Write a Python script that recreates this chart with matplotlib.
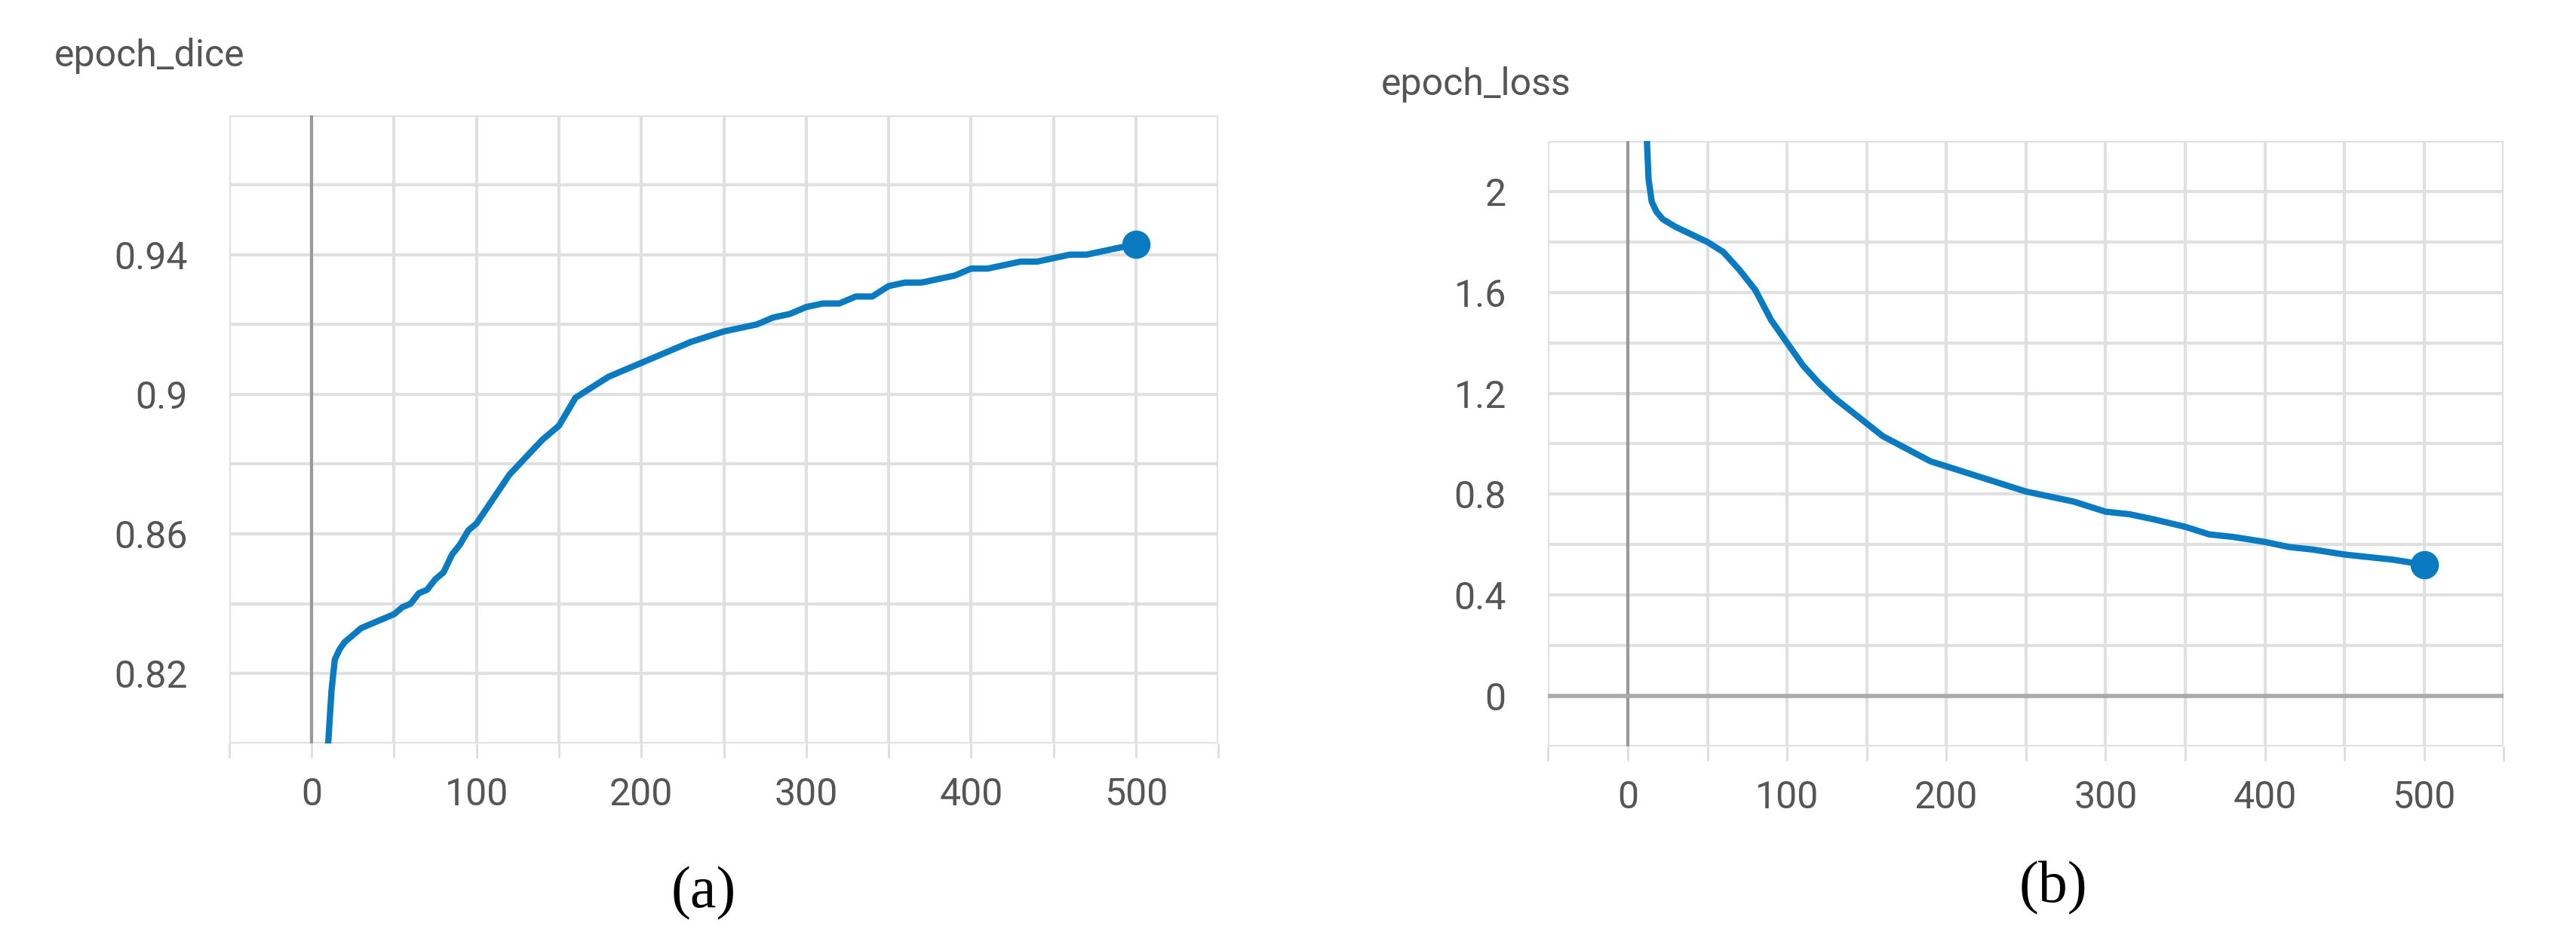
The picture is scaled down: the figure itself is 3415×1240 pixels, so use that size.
import matplotlib.pyplot as plt
from matplotlib.ticker import MultipleLocator

# epoch_dice (a)
dice_epoch = [10, 12, 14, 17, 20, 25, 30, 35, 40, 45, 50, 55, 60, 65, 70, 75, 80, 85, 90, 95, 100,
              110, 120, 130, 140, 150, 155, 160, 170, 180, 190, 200, 215, 230, 250, 260, 270, 280,
              290, 300, 310, 320, 330, 340, 350, 360, 370, 380, 390, 400, 410, 420, 430, 440,
              450, 460, 470, 480, 490, 500]
dice_value = [0.800, 0.815, 0.824, 0.827, 0.829, 0.831, 0.833, 0.834, 0.835, 0.836, 0.837, 0.839,
              0.840, 0.843, 0.844, 0.847, 0.849, 0.854, 0.857, 0.861, 0.863, 0.870, 0.877, 0.882,
              0.887, 0.891, 0.895, 0.899, 0.902, 0.905, 0.907, 0.909, 0.912, 0.915, 0.918, 0.919,
              0.920, 0.922, 0.923, 0.925, 0.926, 0.926, 0.928, 0.928, 0.931, 0.932, 0.932, 0.933,
              0.934, 0.936, 0.936, 0.937, 0.938, 0.938, 0.939, 0.940, 0.940, 0.941, 0.942, 0.943]

# epoch_loss (b)
loss_epoch = [12, 13, 15, 18, 22, 30, 40, 50, 60, 70, 80, 90, 100, 110, 120, 130, 140, 150, 160,
              175, 190, 200, 215, 230, 250, 265, 280, 300, 315, 330, 350, 365, 380, 400, 415,
              430, 450, 465, 480, 500]
loss_value = [2.20, 2.05, 1.96, 1.92, 1.89, 1.86, 1.83, 1.80, 1.76, 1.69, 1.61, 1.49, 1.40, 1.31,
              1.24, 1.18, 1.13, 1.08, 1.03, 0.98, 0.93, 0.91, 0.88, 0.85, 0.81, 0.79, 0.77, 0.73,
              0.72, 0.70, 0.67, 0.64, 0.63, 0.61, 0.59, 0.58, 0.56, 0.55, 0.54, 0.52]

plt.rcParams['font.family'] = ['Roboto', 'DejaVu Sans']
LINE = '#0b7bc1'
TXT = '#555555'

fig = plt.figure(figsize=(34.15, 12.4), dpi=100)
ax1 = fig.add_axes([0.089, 0.205, 0.384, 0.672])
ax2 = fig.add_axes([0.601, 0.202, 0.371, 0.647])


def style(ax, ymajor, yminor):
    for s in ax.spines.values():
        s.set_visible(False)
    ax.set_xlim(-50, 550)
    ax.xaxis.set_major_locator(MultipleLocator(100))
    ax.xaxis.set_minor_locator(MultipleLocator(50))
    ax.yaxis.set_major_locator(MultipleLocator(ymajor))
    ax.yaxis.set_minor_locator(MultipleLocator(yminor))
    ax.grid(True, which='both', color='#e0e0e0', lw=3)
    ax.axvline(0, color='#999999', lw=3)
    ax.tick_params(which='both', axis='x', length=14, width=2, color='#dddddd',
                   labelsize=36, labelcolor=TXT, pad=18)
    ax.tick_params(which='both', axis='y', length=0, labelsize=36, labelcolor=TXT, pad=40)
    ax.set_axisbelow(True)


style(ax1, 0.04, 0.02)
ax1.set_ylim(0.80, 0.98)
ax1.set_yticks([0.82, 0.86, 0.9, 0.94])
ax1.set_yticklabels(['0.82', '0.86', '0.9', '0.94'])
ax1.plot(dice_epoch, dice_value, color=LINE, lw=6, solid_capstyle='round')
ax1.plot(dice_epoch[-1], dice_value[-1], 'o', color=LINE, ms=26)

style(ax2, 0.4, 0.2)
ax2.set_ylim(-0.2, 2.2)
ax2.set_yticks([0, 0.4, 0.8, 1.2, 1.6, 2])
ax2.set_yticklabels(['0', '0.4', '0.8', '1.2', '1.6', '2'])
ax2.axhline(0, color='#aaaaaa', lw=4)
ax2.plot(loss_epoch, loss_value, color=LINE, lw=6, solid_capstyle='round', clip_on=True)
ax2.plot(loss_epoch[-1], loss_value[-1], 'o', color=LINE, ms=26)

fig.text(0.021, 0.94, 'epoch_dice', fontsize=36, color=TXT, va='center')
fig.text(0.536, 0.91, 'epoch_loss', fontsize=36, color=TXT, va='center')
fig.text(0.273, 0.045, '(a)', fontsize=56, family='Liberation Serif', ha='center', va='center')
fig.text(0.797, 0.05, '(b)', fontsize=56, family='Liberation Serif', ha='center', va='center')

fig.savefig('out.png', dpi=100, facecolor='white')
